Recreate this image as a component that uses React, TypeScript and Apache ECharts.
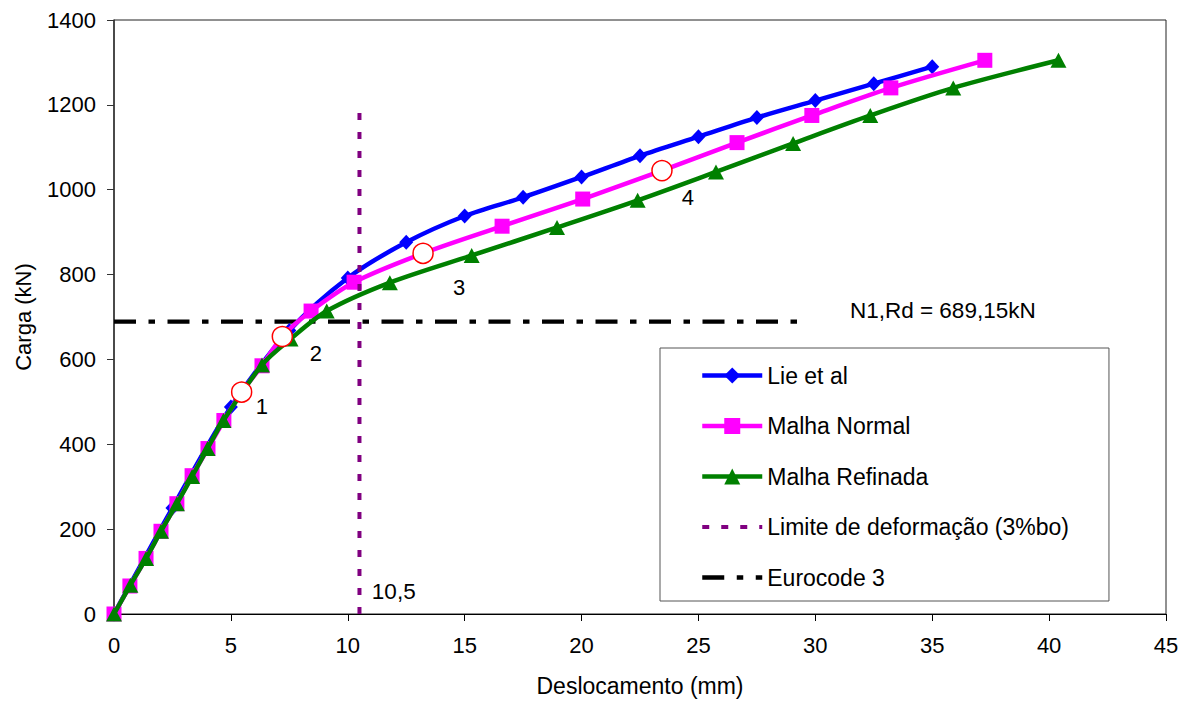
import React, { useEffect, useRef } from "react";
import * as echarts from "echarts";

const FONT = "'Liberation Sans', Arial, sans-serif";

const lieX = [0, 2.5, 5, 7.5, 10, 12.5, 15, 17.5, 20, 22.5, 25, 27.5, 30, 32.5, 35];
const lieY = [0, 250, 488, 668, 792, 876, 938, 982, 1030, 1080, 1125, 1170, 1210, 1250, 1290];

const normalX = [0, 0.68, 1.37, 2.01, 2.69, 3.34, 4.02, 4.7, 5.46, 6.33, 7.2, 8.43, 10.27, 13.22, 16.6, 20.05, 23.44, 26.65, 29.85, 33.23, 37.25];
const normalY = [0, 66, 131, 195, 260, 326, 390, 456, 523, 585, 654, 714, 782, 850, 914, 978, 1045, 1111, 1175, 1240, 1305];
const circleIdx = [8, 10, 13, 16];

const refinadaX = [0, 0.7, 1.37, 2.01, 2.69, 3.34, 4.0, 4.68, 6.33, 7.55, 9.1, 11.8, 15.3, 18.95, 22.4, 25.75, 29.05, 32.35, 35.9, 40.4];
const refinadaY = [0, 68, 131, 195, 260, 324, 390, 456, 587, 648, 714, 781, 845, 911, 975, 1042, 1109, 1175, 1240, 1305];

const limiteX = 10.5;
const limiteTop = 1185;
const eurocodeY = 689.15;
const eurocodeEnd = 29.7;

const xTicks = { min: 0, max: 45, interval: 5 };
const yTicks = { min: 0, max: 1400, interval: 200 };

const annotations: [number, number, string][] = [
  [6.33, 489, "1"],
  [8.64, 615, "2"],
  [14.76, 770, "3"],
  [24.55, 982, "4"],
];
const leftNotes: [number, number, string][] = [
  [11.03, 52, "10,5"],
  [31.48, 716, "N1,Rd = 689,15kN"],
];

const zip = (xs: number[], ys: number[]) => xs.map((x, i) => [x, ys[i]]);

export default function App() {
  const ref = useRef<HTMLDivElement>(null);
  useEffect(() => {
    if (!ref.current) return;
    const chart = echarts.init(ref.current, null, { renderer: "svg" });
    const textStyle = { fontFamily: FONT, color: "#000" };
    const lw = 4.5;
    chart.setOption({
      animation: false,
      backgroundColor: "#fff",
      textStyle,
      grid: {
        left: 114,
        top: 20,
        width: 1052,
        height: 596,
        show: true,
        borderColor: "#222",
        borderWidth: 1,
        backgroundColor: "transparent",
      },
      legend: {
        orient: "vertical",
        left: 660,
        top: 348,
        padding: [16, 40, 12, 40],
        itemWidth: 60,
        itemHeight: 20,
        itemGap: 27.5,
        borderColor: "#555",
        borderWidth: 1,
        backgroundColor: "#fff",
        textStyle: { fontFamily: FONT, fontSize: 23, color: "#000", lineHeight: 22 },
        data: [
          { name: "Lie et al", lineStyle: { width: lw } },
          { name: "Malha Normal", lineStyle: { width: lw } },
          { name: "Malha Refinada", lineStyle: { width: lw } },
          { name: "Limite de deformação (3%bo)", itemStyle: { opacity: 0 }, lineStyle: { width: 4 } },
          { name: "Eurocode 3", itemStyle: { opacity: 0 }, lineStyle: { width: 4.3 } },
        ],
      },
      xAxis: {
        type: "value",
        ...xTicks,
        name: "Deslocamento (mm)",
        nameLocation: "middle",
        nameGap: 60,
        nameTextStyle: { fontFamily: FONT, fontSize: 23, color: "#000" },
        axisLine: { lineStyle: { color: "#000", width: 1 } },
        axisTick: { show: true, length: 7, lineStyle: { color: "#000" } },
        axisLabel: { fontFamily: FONT, fontSize: 22, color: "#000", margin: 20 },
        splitLine: { show: false },
      },
      yAxis: {
        type: "value",
        ...yTicks,
        name: "Carga (kN)",
        nameLocation: "middle",
        nameGap: 80,
        nameTextStyle: { fontFamily: FONT, fontSize: 22, color: "#000" },
        axisLine: { show: true, lineStyle: { color: "#333", width: 1.5 } },
        axisTick: { show: true, length: 7, lineStyle: { color: "#333" } },
        axisLabel: {
          fontFamily: FONT,
          fontSize: 22,
          color: "#000",
          margin: 18,
          formatter: (v: number) => String(v),
        },
        splitLine: { show: false },
      },
      series: [
        {
          name: "Eurocode 3",
          type: "line",
          data: [[0, eurocodeY], [eurocodeEnd, eurocodeY]],
          symbol: "none",
          color: "#000",
          lineStyle: { color: "#000", width: 4.3, type: [22, 12.5, 6.5, 12.5] },
          z: 1,
        },
        {
          name: "Lie et al",
          type: "line",
          data: zip(lieX, lieY),
          smooth: 0.3,
          symbol: "diamond",
          symbolSize: [14, 15],
          showAllSymbol: true,
          color: "#0000ff",
          itemStyle: { color: "#0000ff" },
          lineStyle: { color: "#0000ff", width: lw },
          z: 2,
        },
        {
          name: "Malha Normal",
          type: "line",
          data: zip(normalX, normalY),
          smooth: 0.3,
          symbol: "rect",
          symbolSize: 15,
          showAllSymbol: true,
          color: "#ff00ff",
          itemStyle: { color: "#ff00ff" },
          lineStyle: { color: "#ff00ff", width: lw },
          z: 3,
        },
        {
          name: "Malha Refinada",
          type: "line",
          data: zip(refinadaX, refinadaY),
          smooth: 0.3,
          symbol: "triangle",
          symbolSize: [16, 15],
          showAllSymbol: true,
          color: "#008000",
          itemStyle: { color: "#008000" },
          lineStyle: { color: "#008000", width: lw },
          z: 4,
        },
        {
          name: "Limite de deformação (3%bo)",
          type: "line",
          data: [[limiteX, 0], [limiteX, limiteTop]],
          symbol: "none",
          color: "#800080",
          lineStyle: { color: "#800080", width: 4, type: [7, 12] },
          z: 5,
        },
        {
          name: "pontos",
          type: "scatter",
          data: circleIdx.map((i) => [normalX[i], normalY[i]]),
          symbol: "circle",
          symbolSize: 20,
          itemStyle: { color: "#fff", borderColor: "#ff0000", borderWidth: 1.5, opacity: 1 },
          z: 6,
        },
        {
          name: "rotulos",
          type: "scatter",
          data: annotations.map(([x, y, t]) => ({ value: [x, y], name: t })),
          symbolSize: 0,
          itemStyle: { opacity: 1 },
          label: {
            show: true,
            position: "inside",
            formatter: (p: any) => p.name,
            fontFamily: FONT,
            fontSize: 22,
            color: "#000",
            opacity: 1,
          },
          z: 7,
        },
        {
          name: "notas",
          type: "scatter",
          data: leftNotes.map(([x, y, t]) => ({ value: [x, y], name: t })),
          symbolSize: 0,
          itemStyle: { opacity: 1 },
          label: {
            show: true,
            position: "inside",
            align: "left",
            formatter: (p: any) => p.name,
            fontFamily: FONT,
            fontSize: 22.5,
            color: "#000",
            opacity: 1,
          },
          z: 7,
        },
      ],
    });
    return () => chart.dispose();
  }, []);
  return (
    <div
      ref={ref}
      style={{ position: "absolute", left: 0, top: 0, width: 1188, height: 702, background: "#fff" }}
    />
  );
}
